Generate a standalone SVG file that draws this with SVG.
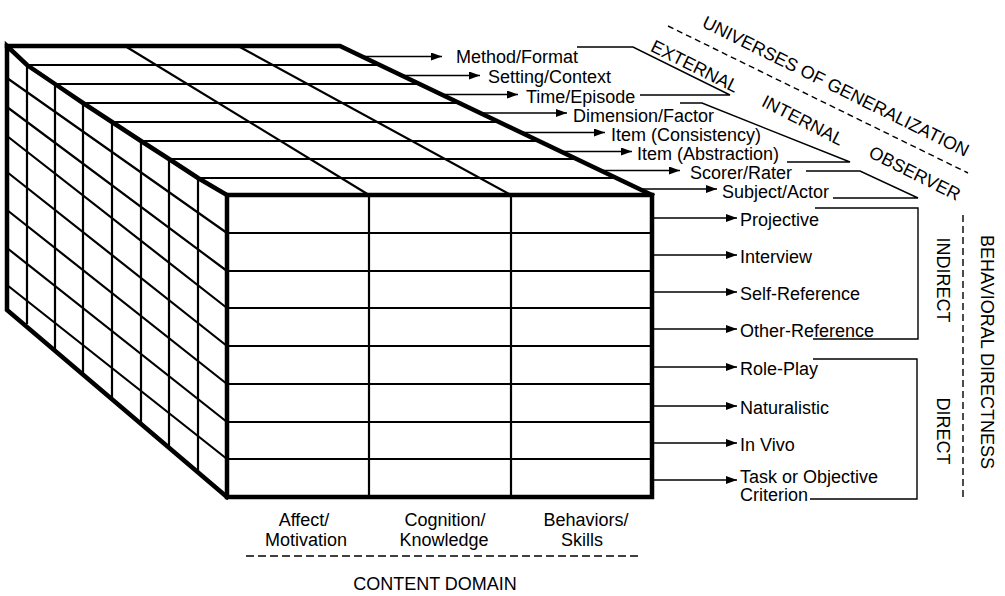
<svg xmlns="http://www.w3.org/2000/svg" width="1005" height="596" viewBox="0 0 1005 596">
<defs>
<style>
text{font-family:"Liberation Sans",Arial,Helvetica,sans-serif;font-size:18px;fill:#000}
.mid{text-anchor:middle}
.edge{stroke:#000;stroke-width:4.5;fill:none;stroke-linejoin:miter;stroke-linecap:square}
.grid{stroke:#000;stroke-width:2.2;fill:none}
.arrow{stroke:#000;stroke-width:1.6;fill:none;marker-end:url(#ah)}
.brk{stroke:#000;stroke-width:1.4;fill:none}
.dash{stroke:#000;stroke-width:1.4;fill:none;stroke-dasharray:6 4}
</style>
<marker id="ah" markerUnits="userSpaceOnUse" markerWidth="11" markerHeight="8" refX="11" refY="4" orient="auto"><path d="M0,0 L11,4 L0,8 z" fill="#000"/></marker>
</defs>
<rect width="1005" height="596" fill="#fff"/>

<g id="cube">
  <g id="side-face">
    <path class="grid" d="M27,65V324 M55,84V351 M83,103V375 M112,122V399 M141,141V424 M169,159V448 M198,178V472"/>
    <path class="grid" d="M7,78L227,233 M7,107L227,271 M7,136L227,308 M7,172L227,346 M7,210L227,384 M7,248L227,422 M7,285L227,459"/>
    <polyline class="edge" points="227,195 198,178 169,159 141,141 112,122 83,103 55,84 27,65 7,46 7,310 227,497"/>
  </g>
  <g id="top-face">
    <path class="grid" d="M27,65H380 M55,84H419.6 M83,103H459.4 M112,122H499.1 M141,141H538.9 M169,159H576.6 M198,178H616.4"/>
    <path class="grid" d="M125,46L369,195 M238,46L511,195"/>
    <polyline class="edge" points="7,46 340,46 652,195"/>
  </g>
  <g id="front-face">
    <path class="grid" d="M369,195V497 M511,195V497 M227,233H652 M227,271H652 M227,308H652 M227,346H652 M227,384H652 M227,422H652 M227,459H652"/>
    <rect class="edge" x="227" y="195" width="425" height="302"/>
  </g>
</g>

<g id="connectors">
  <line class="arrow" x1="362" y1="56.5" x2="442" y2="56.5"/>
  <line class="arrow" x1="402" y1="75.5" x2="480" y2="75.5"/>
  <line class="arrow" x1="442" y1="94.5" x2="518" y2="94.5"/>
  <line class="arrow" x1="481" y1="113" x2="567" y2="113"/>
  <line class="arrow" x1="521" y1="132.5" x2="605" y2="132.5"/>
  <line class="arrow" x1="561" y1="151.5" x2="632" y2="151.5"/>
  <line class="arrow" x1="601" y1="170.5" x2="680" y2="170.5"/>
  <line class="arrow" x1="640" y1="189" x2="717" y2="189"/>

  <line class="arrow" x1="654" y1="218" x2="737" y2="218"/>
  <line class="arrow" x1="654" y1="255" x2="737" y2="255"/>
  <line class="arrow" x1="654" y1="292" x2="737" y2="292"/>
  <line class="arrow" x1="654" y1="329" x2="737" y2="329"/>
  <line class="arrow" x1="654" y1="367" x2="737" y2="367"/>
  <line class="arrow" x1="654" y1="406" x2="737" y2="406"/>
  <line class="arrow" x1="654" y1="443" x2="737" y2="443"/>
  <line class="arrow" x1="654" y1="480" x2="737" y2="480"/>

  <polyline class="brk" points="577,47 633,47 730,95 640,95"/>
  <polyline class="brk" points="680,103 702,103 850,162 787,162"/>
  <polyline class="brk" points="806,171 860,171 918,198 833,198"/>
  <polyline class="brk" points="815,208 918,208 918,339 813,339"/>
  <polyline class="brk" points="813,359 917,359 917,499 810,499"/>

  <line class="dash" x1="668" y1="26" x2="968" y2="173"/>
  <line class="dash" x1="963" y1="215" x2="963" y2="498" style="stroke-dasharray:7 4"/>
  <line class="dash" x1="246" y1="556" x2="640" y2="556" style="stroke-dasharray:8 4"/>
</g>

<g id="facet-labels">
  <text x="456" y="63">Method/Format</text>
  <text x="488" y="83">Setting/Context</text>
  <text x="526" y="102.5">Time/Episode</text>
  <text x="573" y="121.5">Dimension/Factor</text>
  <text x="611" y="141">Item (Consistency)</text>
  <text x="637" y="160">Item (Abstraction)</text>
  <text x="690" y="178.5">Scorer/Rater</text>
  <text x="722" y="198">Subject/Actor</text>
</g>

<g id="method-labels">
  <text x="740" y="225.5">Projective</text>
  <text x="740" y="262.5">Interview</text>
  <text x="740" y="299.5">Self-Reference</text>
  <text x="740" y="336.5">Other-Reference</text>
  <text x="740" y="374.5">Role-Play</text>
  <text x="740" y="413.5">Naturalistic</text>
  <text x="740" y="450.5">In Vivo</text>
  <text x="740" y="483">Task or Objective</text>
  <text x="740" y="501">Criterion</text>
</g>

<g id="content-labels">
  <text class="mid" x="304" y="526">Affect/</text>
  <text class="mid" x="306" y="546">Motivation</text>
  <text class="mid" x="445" y="526">Cognition/</text>
  <text class="mid" x="444" y="546">Knowledge</text>
  <text class="mid" x="586" y="526">Behaviors/</text>
  <text class="mid" x="582" y="546">Skills</text>
  <text class="mid" x="435" y="590">CONTENT DOMAIN</text>
</g>

<g id="generalization-labels">
  <text class="mid" transform="translate(836,86) rotate(26.3)" y="6.5">UNIVERSES OF GENERALIZATION</text>
  <text class="mid" transform="translate(695,66) rotate(26.5)" y="6.5">EXTERNAL</text>
  <text class="mid" transform="translate(803,120) rotate(27)" y="6.5">INTERNAL</text>
  <text class="mid" transform="translate(915,173) rotate(26.6)" y="6.5">OBSERVER</text>
</g>

<g id="directness-labels">
  <text class="mid" transform="translate(943,280) rotate(90)" y="6.5">INDIRECT</text>
  <text class="mid" transform="translate(943,431) rotate(90)" y="6.5">DIRECT</text>
  <text class="mid" transform="translate(987,352) rotate(90)" y="6.5">BEHAVIORAL DIRECTNESS</text>
</g>
</svg>
